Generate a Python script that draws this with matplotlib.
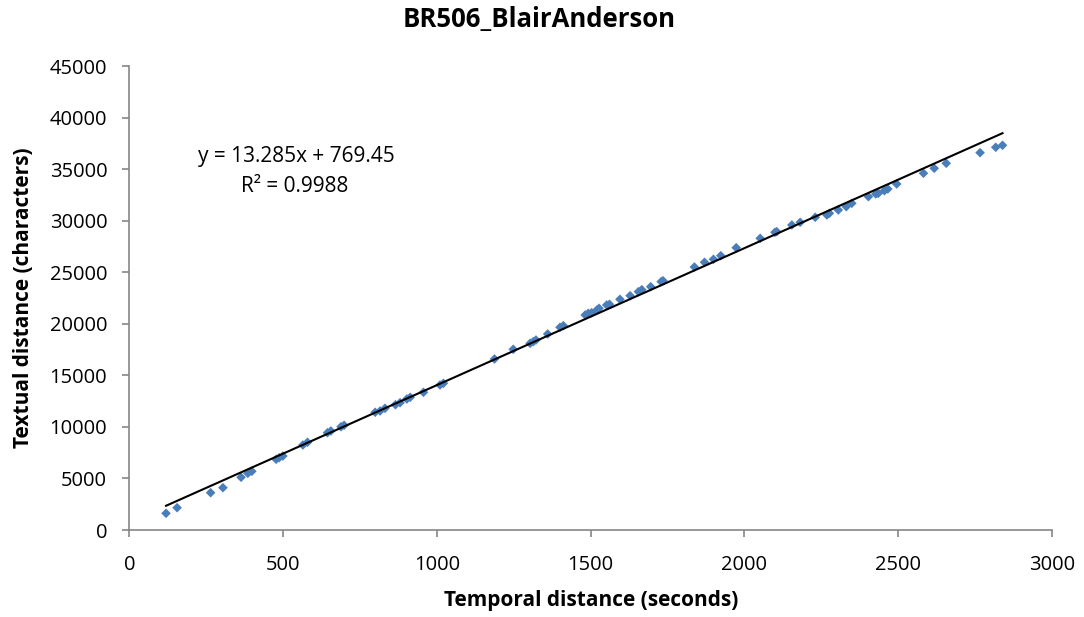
import matplotlib
matplotlib.use("Agg")
import matplotlib.pyplot as plt
import numpy as np

title = "BR506_BlairAnderson"
x_label = "Temporal distance (seconds)"
y_label = "Textual distance (characters)"

temporal_s = [119, 155, 264, 304, 363, 385, 398, 477, 487, 499, 564, 579, 644, 655,
              688, 698, 799, 815, 831, 865, 880, 902, 913, 956, 1010, 1021, 1187, 1248,
              1303, 1313, 1322, 1360, 1400, 1411, 1482, 1492, 1503, 1520, 1527, 1552,
              1561, 1595, 1628, 1655, 1666, 1695, 1729, 1735, 1837, 1870, 1899, 1923,
              1973, 2051, 2099, 2105, 2154, 2181, 2230, 2268, 2276, 2305, 2331, 2349,
              2403, 2427, 2435, 2455, 2466, 2495, 2582, 2617, 2656, 2766, 2817, 2839]
textual_chars = [1620, 2163, 3618, 4103, 5112, 5499, 5693, 6857, 7013, 7177, 8244, 8506,
                 9437, 9602, 10019, 10155, 11416, 11542, 11804, 12153, 12347, 12706,
                 12871, 13356, 14064, 14229, 16586, 17527, 18109, 18264, 18429, 19011,
                 19660, 19816, 20854, 21018, 21077, 21338, 21503, 21823, 21891, 22376,
                 22726, 23113, 23307, 23598, 24083, 24180, 25509, 25965, 26256, 26605,
                 27381, 28293, 28875, 28933, 29583, 29845, 30330, 30553, 30718, 31038,
                 31358, 31688, 32328, 32590, 32657, 32910, 33075, 33560, 34598, 35082,
                 35567, 36596, 37119, 37313]

slope = 13.285
intercept = 769.45
r_squared = 0.9988

x_ticks = [0, 500, 1000, 1500, 2000, 2500, 3000]
y_ticks = [0, 5000, 10000, 15000, 20000, 25000, 30000, 35000, 40000, 45000]

plt.rcParams['font.family'] = ['Open Sans', 'DejaVu Sans']

fig = plt.figure(figsize=(10.84, 6.17), dpi=100)
ax = fig.add_axes([0.1194, 0.141, 0.8511, 0.752])

ax.scatter(temporal_s, textual_chars, marker='D', s=24, color='#4A7EBB',
           edgecolors='none', zorder=3)

xt = np.array([min(temporal_s), max(temporal_s)])
ax.plot(xt, slope * xt + intercept, color='black', linewidth=1.5, zorder=4)

ax.set_xlim(0, 3000)
ax.set_ylim(0, 45000)
ax.set_xticks(x_ticks)
ax.set_yticks(y_ticks)
ax.set_xticklabels([str(v) for v in x_ticks])
ax.set_yticklabels([str(v) for v in y_ticks])

for s in ['top', 'right']:
    ax.spines[s].set_visible(False)
for s in ['left', 'bottom']:
    ax.spines[s].set_color('#868686')
    ax.spines[s].set_linewidth(1.2)
ax.tick_params(axis='both', direction='out', length=5, width=1.2, color='#868686',
               labelsize=14.5, labelcolor='black')
ax.tick_params(axis='x', pad=13)
ax.tick_params(axis='y', pad=11)

ax.set_xlabel(x_label, fontsize=15, fontweight='bold', va='center')
ax.xaxis.set_label_coords(0.5, -0.151)
ax.set_ylabel(y_label, fontsize=15, fontweight='bold', va='center')
ax.yaxis.set_label_coords(-0.115, 0.5)
fig.suptitle(title, x=0.497, y=0.969, va='center', fontsize=18.5, fontweight='bold')

ax.text(0.1807, 0.805, f"y = {slope}x + {intercept}", transform=ax.transAxes,
        ha='center', va='center', fontsize=15)
ax.text(0.1795, 0.7405, f"R\u00b2 = {r_squared}", transform=ax.transAxes,
        ha='center', va='center', fontsize=15)

fig.savefig("out.png", dpi=100)
